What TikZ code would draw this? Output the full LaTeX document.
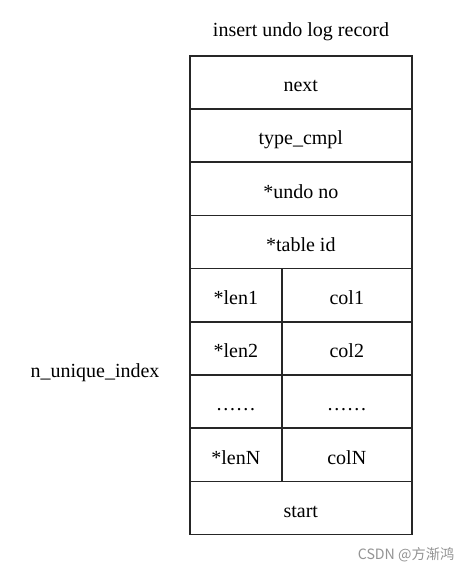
\documentclass[tikz,border=0pt]{standalone}
\usepackage{fontspec}
\setmainfont{Liberation Serif}
\newfontfamily\cjkfont{Noto Sans CJK SC}
\begin{document}
\begin{tikzpicture}[x=1pt,y=-1pt,
  cell/.style={draw=black!85, line width=1.6pt, anchor=north west, inner sep=0pt,
    minimum height=53.2pt, text height=18.6pt, text depth=0pt,
    font=\fontsize{20}{24}\selectfont},
  full/.style={cell, minimum width=222pt},
  lcell/.style={cell, minimum width=92pt},
  rcell/.style={cell, minimum width=130pt},
  lbl/.style={inner sep=0pt, font=\fontsize{20}{24}\selectfont}]
\useasboundingbox (0,0) rectangle (471,572);
\fill[white] (0,0) rectangle (471,572);
\node[lbl, anchor=base] (title) at (301,36.5) {insert undo log record};
\node[full] (next) at (189,55) {next};
\node[full] (type) at (189,108.2) {type\_cmpl};
\node[full] (undo) at (189,161.4) {*undo no};
\node[full] (table) at (189,214.6) {*table id};
\node[lcell] (len1) at (189,267.8) {*len1};
\node[rcell] (col1) at (281,267.8) {col1};
\node[lcell] (len2) at (189,321) {*len2};
\node[rcell] (col2) at (281,321) {col2};
\node[lcell] (dotsl) at (189,374.2) {\dots\dots};
\node[rcell] (dotsr) at (281,374.2) {\dots\dots};
\node[lcell] (lenN) at (189,427.4) {*lenN};
\node[rcell] (colN) at (281,427.4) {colN};
\node[full] (start) at (189,480.6) {start};
\node[lbl, anchor=base] (nui) at (95,377) {n\_unique\_index};
\node[inner sep=0pt, text=black!42, font=\cjkfont\fontsize{14.2}{17}\selectfont] (wm) at (406,555) {CSDN @方渐鸿};
\end{tikzpicture}
\end{document}
